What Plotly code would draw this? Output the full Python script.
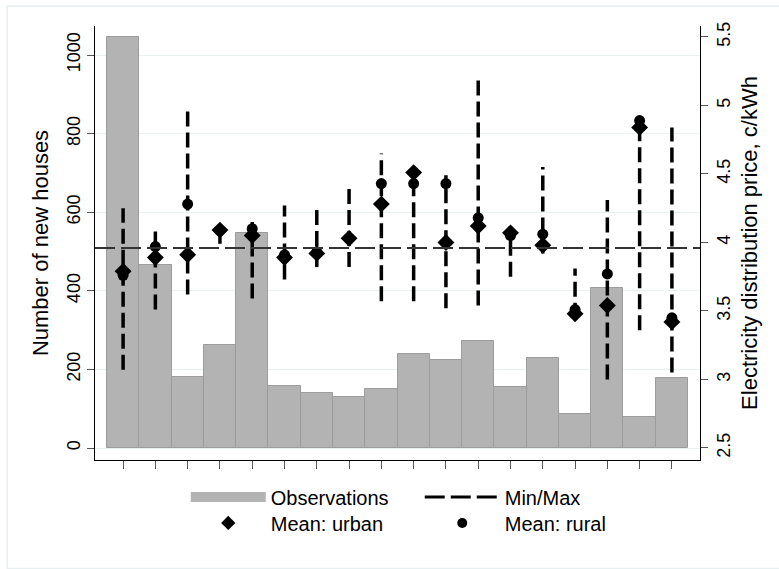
import plotly.graph_objects as go

# ---------------- data ----------------
categories = list(range(1, 19))
observations = [1045, 466, 181, 262, 547, 158, 140, 130, 150,
                239, 224, 272, 155, 229, 87, 407, 79, 178]
price_min = [3.07, 3.51, 3.62, 3.99, 3.59, 3.73, 3.82, 3.82, 3.57,
             3.57, 3.52, 3.54, 3.75, 3.92, 3.45, 3.00, 3.36, 3.05]
price_max = [4.25, 4.10, 4.97, 4.14, 4.15, 4.27, 4.27, 4.40, 4.65,
             4.53, 4.49, 5.20, 4.12, 4.55, 3.81, 4.31, 4.90, 4.84]
mean_urban = [3.79, 3.89, 3.91, 4.09, 4.05, 3.89, 3.92, 4.03, 4.28,
              4.51, 4.00, 4.12, 4.07, 3.98, 3.48, 3.54, 4.84, 3.42]
mean_rural = [3.76, 3.97, 4.28, None, 4.10, 3.91, 3.93, None, 4.43,
              4.43, 4.43, 4.18, 4.05, 4.06, 3.51, 3.77, 4.89, 3.45]
ref_price = 3.96
left_ticks = [0, 200, 400, 600, 800, 1000]
right_ticks = [2.5, 3, 3.5, 4, 4.5, 5, 5.5]

FONT = "Liberation Sans, Arial, Helvetica, sans-serif"

fig = go.Figure()

fig.add_trace(go.Bar(
    x=categories, y=observations, width=1,
    marker=dict(color="#b3b3b3", line=dict(color="#9c9c9c", width=1)),
    showlegend=False, yaxis="y",
))

# min/max dashed vertical lines
vx, vy = [], []
for c, lo, hi in zip(categories, price_min, price_max):
    vx += [c, c, None]
    vy += [lo, hi, None]
fig.add_trace(go.Scatter(
    x=vx, y=vy, mode="lines", yaxis="y2",
    line=dict(color="black", width=3.5, dash="15px,6px"),
    showlegend=False,
))

fig.add_trace(go.Scatter(
    x=categories, y=mean_rural, mode="markers", yaxis="y2",
    marker=dict(symbol="circle", size=11, color="black"),
    showlegend=False,
))
fig.add_trace(go.Scatter(
    x=categories, y=mean_urban, mode="markers", yaxis="y2",
    marker=dict(symbol="diamond", size=13, color="black"),
    showlegend=False,
))

# legend proxies
fig.add_trace(go.Scatter(x=[None], y=[None], mode="lines", name="Observations",
                         line=dict(color="#b3b3b3", width=20), legend="legend"))
fig.add_trace(go.Scatter(x=[None], y=[None], mode="lines", name="Min/Max",
                         line=dict(color="black", width=3, dash="20px,6px"),
                         legend="legend"))
fig.add_trace(go.Scatter(x=[None], y=[None], mode="markers", name="Mean: urban",
                         marker=dict(symbol="diamond", size=11, color="black"),
                         legend="legend2"))
fig.add_trace(go.Scatter(x=[None], y=[None], mode="markers", name="Mean: rural",
                         marker=dict(symbol="circle", size=10, color="black"),
                         legend="legend2"))

fig.add_shape(type="line", xref="paper", x0=0, x1=1, yref="y2",
              y0=ref_price, y1=ref_price, layer="above",
              line=dict(color="#333333", width=2, dash="20px,6px"))

# outer frame of graph region
fig.add_shape(type="rect", xref="paper", yref="paper",
              x0=-0.145, x1=1.2, y0=-0.25, y1=1.046,
              line=dict(color="#e8eff1", width=1.5), layer="below")

fig.update_layout(
    width=779, height=569,
    margin=dict(l=95, r=79, t=26, b=109),
    paper_bgcolor="white", plot_bgcolor="white",
    font=dict(family=FONT, size=18, color="black"),
    bargap=0,
    xaxis=dict(
        range=[0.13, 18.87], tickvals=categories, showticklabels=False,
        ticks="outside", ticklen=8, tickcolor="#555555",
        showline=True, linecolor="black", linewidth=1.3,
        showgrid=False, zeroline=False,
    ),
    yaxis=dict(
        range=[-30.5, 1073.8], tickvals=left_ticks, tickangle=-90,
        ticks="outside", ticklen=7, tickcolor="#555555",
        showline=True, linecolor="black", linewidth=1.3,
        showgrid=True, gridcolor="#e9f1f3", gridwidth=1,
        zeroline=False,
        title=dict(text="Number of new houses", font=dict(size=22), standoff=8),
        tickfont=dict(size=18),
    ),
    yaxis2=dict(
        range=[2.412, 5.58], tickvals=right_ticks, tickangle=-90,
        overlaying="y", side="right",
        ticks="outside", ticklen=7, tickcolor="#555555",
        showline=True, linecolor="black", linewidth=1.3,
        showgrid=False, zeroline=False,
        title=dict(text="Electricity distribution price, c/kWh", font=dict(size=22), standoff=8),
        tickfont=dict(size=18),
    ),
    legend=dict(
        orientation="h", x=0.15, xanchor="left", y=-0.085, yanchor="middle",
        itemwidth=75, entrywidth=144, font=dict(size=20),
        bgcolor="rgba(0,0,0,0)", tracegroupgap=0,
    ),
    legend2=dict(
        orientation="h", x=0.15, xanchor="left", y=-0.145, yanchor="middle",
        itemwidth=75, entrywidth=144, font=dict(size=20),
        bgcolor="rgba(0,0,0,0)", tracegroupgap=0,
    ),
)

fig.write_html("out.html")
